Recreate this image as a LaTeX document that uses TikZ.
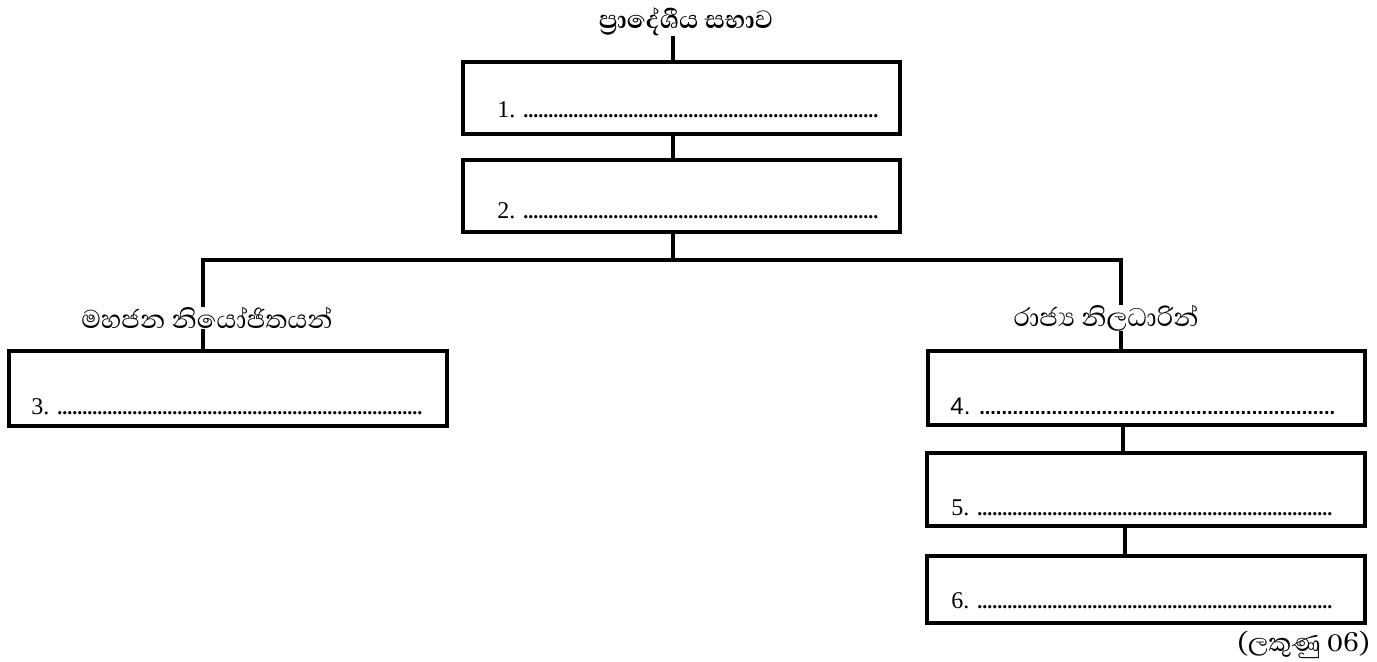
\documentclass[tikz,border=0pt]{standalone}
\usepackage{fontspec}
\setmainfont{Liberation Serif}
\newfontfamily\armfont{Liberation Sans}
\newfontfamily\sinhalafont[Script=Sinhala]{Abhaya Libre}
\usetikzlibrary{fit}
\newcommand\dotrow[1]{{\bfseries\fontsize{10}{10}\selectfont\foreach\i in {1,...,#1}{.}}}
\begin{document}
\begin{tikzpicture}[x=0.5pt,y=-0.5pt,
  boxst/.style={draw, line width=1.75pt, inner sep=0pt},
  conn/.style={line width=1.75pt},
  numtxt/.style={anchor=base west, inner sep=0pt, font=\fontsize{12}{12}\selectfont},
  lbl/.style={font=\sinhalafont\fontsize{16.4}{18}\selectfont, fill=white, inner xsep=0pt, inner ysep=0pt},
  ttl/.style={font=\sinhalafont\bfseries\fontsize{16}{18}\selectfont, inner sep=0pt}]
\useasboundingbox (0,0) rectangle (1377,662);
% boxes
\node[boxst, fit={(463,62)(900,134)}] (b1) {};
\node[boxst, fit={(463,160)(900,232)}] (b2) {};
\node[boxst, fit={(9,351)(447,426)}] (b3) {};
\node[boxst, fit={(928,351)(1365,425)}] (b4) {};
\node[boxst, fit={(927,453)(1365,526)}] (b5) {};
\node[boxst, fit={(927,556)(1365,623)}] (b6) {};
% title
\node[ttl] (title) at (686,22) {ප්‍රාදේශීය සභාව};
% connector points
\coordinate (trunk) at (673,260);
\coordinate (barL) at (203,260);
\coordinate (barR) at (1121,260);
\coordinate (r1) at (1123,0);
\coordinate (r2) at (1125,0);
\draw[conn] (trunk |- title.south) -- (trunk |- b1.north);
\draw[conn] (trunk |- b1.south) -- (trunk |- b2.north);
\draw[conn] (trunk |- b2.south) -- (trunk);
\draw[conn] (barL |- b3.north) -- (barL) -- (barR) -- (barR |- b4.north);
\draw[conn] (r1 |- b4.south) -- (r1 |- b5.north);
\draw[conn] (r2 |- b5.south) -- (r2 |- b6.north);
% branch labels
\node[lbl] (lblL) at (207,318) {මහජන නියෝජිතයන්};
\node[lbl] (lblR) at (1106,318) {රාජ්‍ය නිලධාරින්};
% numbered rows
\node[numtxt] (t1) at (497,118) {1. \dotrow{71}};
\node[numtxt] (t2) at (497,219) {2. \dotrow{71}};
\node[numtxt] (t3) at (31,415) {3. \dotrow{73}};
\node[numtxt, font=\armfont\fontsize{12}{12}\selectfont] (t4) at (950,415) {4. {\armfont\dotrow{64}}};
\node[numtxt] (t5) at (951,516) {5. \dotrow{71}};
\node[numtxt] (t6) at (951,609) {6. \dotrow{71}};
% marks
\node[font=\sinhalafont\fontsize{16}{18}\selectfont, anchor=east, inner sep=0pt] (marks) at (1370,645) {(ලකුණු 06)};
\end{tikzpicture}
\end{document}
